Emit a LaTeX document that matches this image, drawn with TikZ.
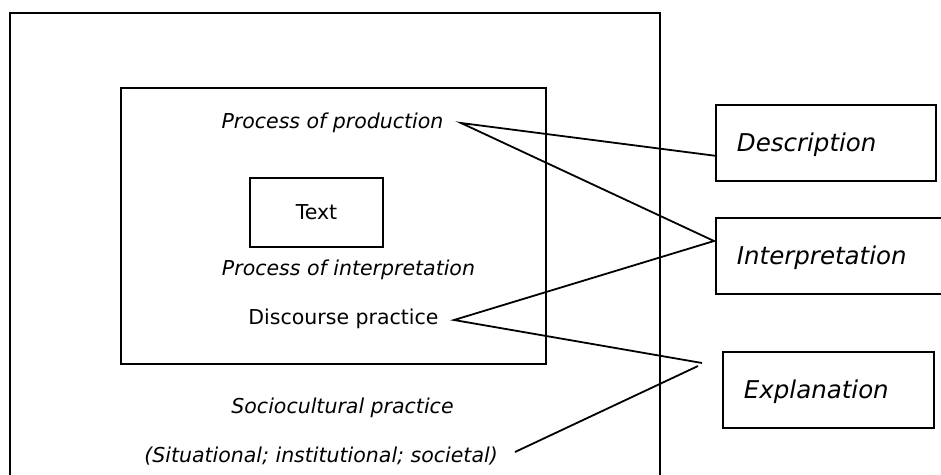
\documentclass[tikz,border=0pt]{standalone}
\usepackage{fontspec}
\setmainfont{DejaVu Sans}
\begin{document}
\begin{tikzpicture}[x=1pt,y=-1pt,
  frame/.style={draw, line width=1.8pt, rectangle, inner sep=0pt},
  conn/.style={line width=1.8pt},
  lbl/.style={font=\fontsize{20.5}{24}\selectfont, inner sep=0pt, anchor=base},
  ilbl/.style={lbl, font=\fontsize{20.5}{24}\selectfont\itshape},
  side/.style={draw, line width=1.8pt, rectangle, anchor=north west,
    minimum height=76pt, inner xsep=21pt, inner ysep=0pt, align=left,
    font=\fontsize{24.5}{28}\selectfont\itshape, text height=17.9pt, text depth=0pt}]
\useasboundingbox (0,0) rectangle (941,474);
\clip (0,0) rectangle (941,474);
% frames
\node[frame, anchor=north west, minimum width=650pt, minimum height=500pt] (outer) at (9,12) {};
\node[frame, anchor=north west, minimum width=425pt, minimum height=276pt] (inner) at (120,87) {};
\node[frame, minimum width=133pt, minimum height=69pt, font=\fontsize{20.5}{24}\selectfont] (text) at (316.5,212.5) {Text};
% labels
\node[ilbl] (prod) at (332.5,128) {Process of production};
\node[ilbl] (interp) at (348.5,275) {Process of interpretation};
\node[lbl] (disc) at (343.5,324) {Discourse practice};
\node[ilbl] (socio) at (342.5,413) {Sociocultural practice};
\node[ilbl] (situ) at (321,462) {(Situational; institutional; societal)};
% side boxes
\node[side, text width=178pt] (desc) at (715,104) {Description};
\node[side, text width=198pt] (interpbox) at (715,217) {Interpretation};
\node[side, text width=169pt] (expl) at (722,351) {Explanation};
% connector end points
\coordinate (pp) at (461,123);
\coordinate (dp) at (454,320);
\coordinate (sp) at (515,452);
\coordinate (dl) at (717,156);
\coordinate (il) at (714,241);
\coordinate (exA) at (702,363);
\coordinate (exB) at (698,366);
% connectors
\draw[conn] (dl) -- (pp) -- (il) -- (dp) -- (exA);
\draw[conn] (sp) -- (exB);
\end{tikzpicture}
\end{document}
